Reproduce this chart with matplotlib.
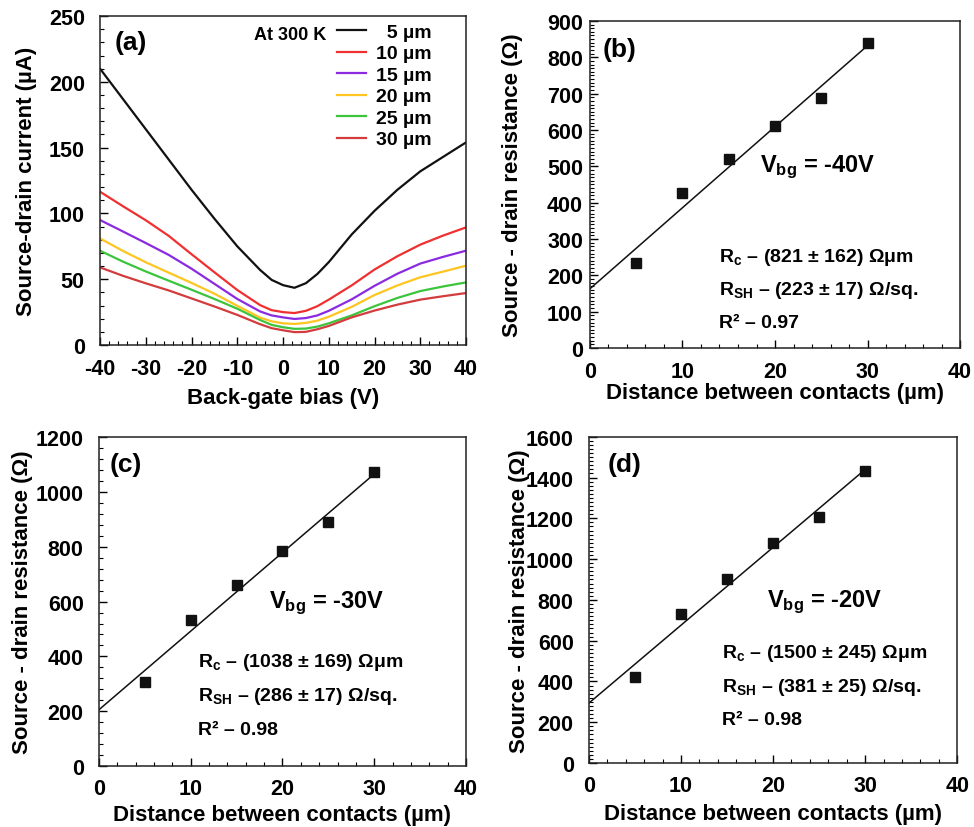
import numpy as np
import matplotlib
matplotlib.use("Agg")
import matplotlib.pyplot as plt
from matplotlib.ticker import MultipleLocator

plt.rcParams['font.family'] = ['Liberation Sans', 'DejaVu Sans']
plt.rcParams['font.weight'] = 'bold'
plt.rcParams['axes.labelweight'] = 'bold'
plt.rcParams['axes.unicode_minus'] = False
plt.rcParams['mathtext.fontset'] = 'custom'
plt.rcParams['mathtext.rm'] = 'Liberation Sans:bold'
plt.rcParams['mathtext.it'] = 'Liberation Sans:bold'
plt.rcParams['mathtext.bf'] = 'Liberation Sans:bold'

# panel (a): transfer curves at 300 K
vbg = [-40, -35, -30, -25, -20, -15, -10, -5, -2.5, 0, 2.5, 5, 7.5, 10, 15, 20, 25, 30, 35, 40]
i_5 = [210, 187, 164, 141, 118, 96, 75, 57, 49.5, 45.5, 43.5, 47, 54, 63, 84, 102, 118, 132, 143, 154]
i_10 = [116.5, 105.5, 94.8, 83, 69, 55.3, 41.8, 30.3, 26.5, 25, 24.3, 26, 29.5, 34.5, 45.3, 57.4, 67.5, 76.3, 83.2, 89.4]
i_15 = [95, 86.3, 77.5, 68.5, 58, 46.5, 35, 25.5, 22.5, 21, 19.8, 20.5, 22.5, 26, 34.7, 45, 54.2, 61.9, 67, 71.7]
i_20 = [81, 71.5, 62.9, 55, 47.2, 39, 29.8, 20.8, 18, 16.5, 16, 16.8, 18.5, 21.5, 29, 38, 45.3, 51.5, 55.8, 60.3]
i_25 = [71.7, 63.4, 55.9, 48.9, 42, 35, 27.6, 19, 15.3, 13.5, 12.3, 12.5, 14, 16.5, 22.5, 29.5, 35.8, 41, 44.5, 47.6]
i_30 = [59, 52.6, 46.9, 41.5, 35.4, 29.3, 22.9, 15.8, 12.8, 11.2, 9.8, 10, 12, 14.5, 21, 26.2, 30.7, 34.5, 37.1, 39.5]
curves = [i_5, i_10, i_15, i_20, i_25, i_30]
curve_labels = ['  5 µm', '10 µm', '15 µm', '20 µm', '25 µm', '30 µm']
curve_colors = ['#111111', '#f03030', '#8a2be2', '#ffc520', '#3cc43c', '#d23c3c']

# panels (b)-(d): TLM resistance vs contact distance
dist = [5, 10, 15, 20, 25, 30]
r_40 = [234, 427, 520, 611, 688, 840]
r_30 = [306, 534, 659, 784, 889, 1072]
r_20 = [420, 730, 902, 1079, 1208, 1434]

fig = plt.figure(figsize=(9.74, 8.28), dpi=100)


def style(ax, xmaj, xmin, ymaj, ymin, xpad, ypad):
    ax.xaxis.set_major_locator(MultipleLocator(xmaj))
    ax.xaxis.set_minor_locator(MultipleLocator(xmin))
    ax.yaxis.set_major_locator(MultipleLocator(ymaj))
    ax.yaxis.set_minor_locator(MultipleLocator(ymin))
    ax.tick_params(which='both', direction='in', top=False, right=False, labelsize=15.5)
    ax.tick_params(which='major', length=5.5, width=1)
    ax.tick_params(which='minor', length=3, width=0.8)
    ax.tick_params(axis='x', pad=xpad)
    ax.tick_params(axis='y', pad=ypad)
    for s in ax.spines.values():
        s.set_linewidth(1.1)
        s.set_color('#222222')


# (a)
ax = fig.add_axes([0.1027, 0.5821, 0.3758, 0.3973])
for y, lab, c in zip(curves, curve_labels, curve_colors):
    ax.plot(vbg, y, color=c, lw=1.6, label=lab)
ax.set_xlim(-40, 40)
ax.set_ylim(0, 250)
style(ax, 10, 2, 50, 10, 9, 11)
ax.set_xlabel('Back-gate bias (V)', fontsize=16)
ax.set_ylabel('Source-drain current (µA)', fontsize=16)
ax.xaxis.set_label_coords(0.5, -0.127)
ax.yaxis.set_label_coords(-0.172, 0.5)
ax.text(0.04, 0.92, '(a)', transform=ax.transAxes, fontsize=19, va='center')
ax.text(0.422, 0.945, 'At 300 K', transform=ax.transAxes, fontsize=13, va='center')
ax.legend(loc='upper right', bbox_to_anchor=(0.95, 1.025), frameon=False, fontsize=14,
          handlelength=1.5, handletextpad=0.55, labelspacing=0.2, borderpad=0.3)

panels = [
    ([0.6057, 0.5785, 0.380, 0.395], r_40, 900, 100, 10, '(b)', '-40V',
     ['(821 ± 162)', '(223 ± 17)', '0.97'],
     (0.035, 0.914), (0.46, 0.557), (0.35, [0.281, 0.18, 0.079]), (-0.181, -0.104), 5),
    ([0.1016, 0.0737, 0.3768, 0.397], r_30, 1200, 200, 40, '(c)', '-30V',
     ['(1038 ± 169)', '(286 ± 17)', '0.98'],
     (0.03, 0.918), (0.463, 0.498), (0.27, [0.319, 0.213, 0.112]), (-0.18, -0.117), 11),
    ([0.6047, 0.0773, 0.378, 0.394], r_20, 1600, 200, 20, '(d)', '-20V',
     ['(1500 ± 245)', '(381 ± 25)', '0.98'],
     (0.052, 0.917), (0.484, 0.497), (0.361, [0.34, 0.236, 0.132]), (-0.16, -0.124), 11),
]

for rect, r, ymax, ymaj, ymin, tag, vlab, vals, tagpos, vpos, rpos, lpos, ypad in panels:
    ax = fig.add_axes(rect)
    k, b = np.polyfit(dist, r, 1)
    xl = np.array([0, max(dist)])
    ax.plot(xl, k * xl + b, color='#111111', lw=1.1)
    ax.plot(dist, r, 's', color='#111111', ms=7.5)
    ax.set_xlim(0, 40)
    ax.set_ylim(0, ymax)
    style(ax, 10, 2, ymaj, ymin, 9, ypad)
    ax.set_xlabel('Distance between contacts (µm)', fontsize=16)
    ax.set_ylabel('Source - drain resistance (Ω)', fontsize=16)
    ax.xaxis.set_label_coords(0.5, lpos[1])
    ax.yaxis.set_label_coords(lpos[0], 0.5)
    ax.text(tagpos[0], tagpos[1], tag, transform=ax.transAxes, fontsize=19, va='center')
    ax.text(vpos[0], vpos[1], r'V$_{\mathregular{bg}}$ = ' + vlab, transform=ax.transAxes,
            fontsize=17, va='center')
    lines = [r'R$_{\mathregular{c}}$ – ' + vals[0] + ' Ωμm',
             r'R$_{\mathregular{SH}}$ – ' + vals[1] + ' Ω/sq.',
             'R² – ' + vals[2]]
    for t, yy in zip(lines, rpos[1]):
        ax.text(rpos[0], yy, t, transform=ax.transAxes, fontsize=14, va='center')

fig.savefig('out.png', dpi=100)
